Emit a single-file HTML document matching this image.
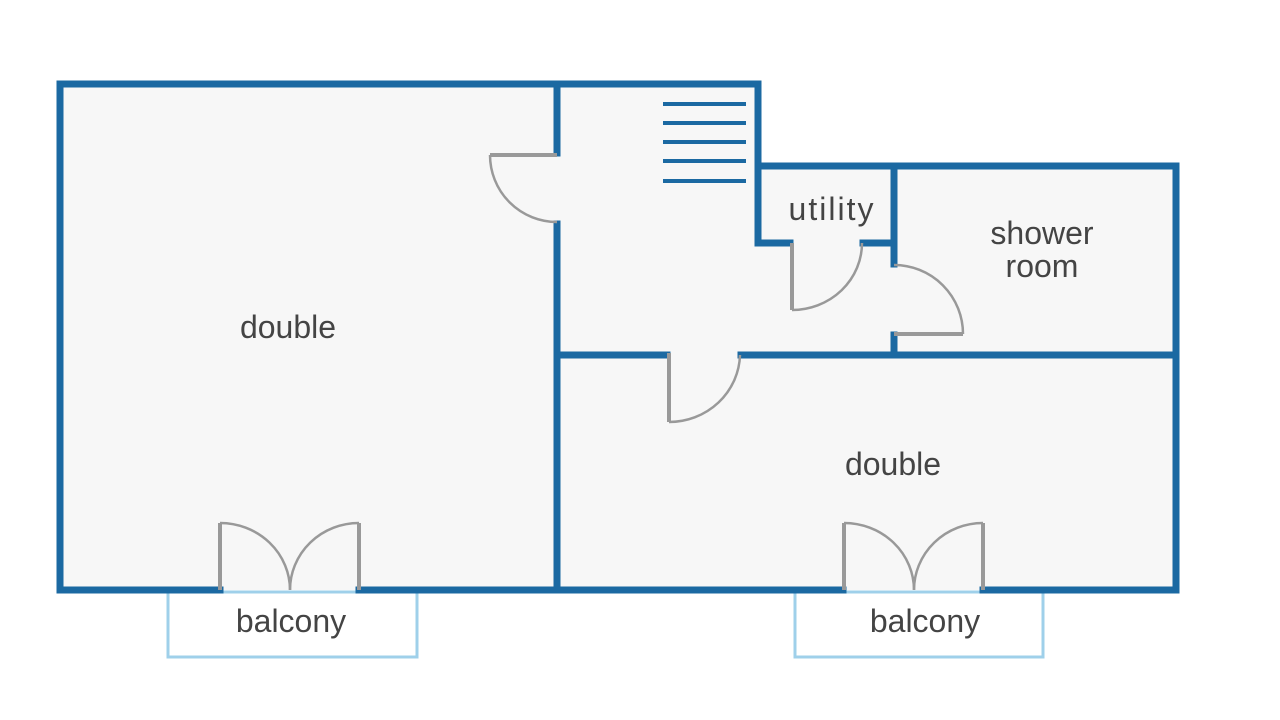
<!DOCTYPE html>
<html><head><meta charset="utf-8"><style>
html,body{margin:0;padding:0;background:#fff;}
svg{display:block;}
text{font-family:"Liberation Sans",sans-serif;fill:#444;font-size:32px;}
</style></head><body>
<svg width="1280" height="720" viewBox="0 0 1280 720" xmlns="http://www.w3.org/2000/svg">
<rect width="1280" height="720" fill="#fff"/>
<!-- floor fill -->
<polygon points="60,84 758,84 758,166 1176,166 1176,590 60,590" fill="#f7f7f7"/>
<!-- balconies -->
<rect x="168" y="592" width="249" height="65" fill="#fff" stroke="#9fd0ea" stroke-width="3"/>
<rect x="795" y="592" width="248" height="65" fill="#fff" stroke="#9fd0ea" stroke-width="3"/>
<g stroke="#1b69a2" stroke-width="7" fill="none" stroke-linecap="square">
  <!-- outer -->
  <polyline points="220,590 60,590 60,84 758,84 758,166 1176,166 1176,590 983,590"/>
  <line x1="359" y1="590" x2="843" y2="590"/>
  <!-- vertical wall between left double and hall -->
  <line x1="557" y1="84" x2="557" y2="153"/>
  <line x1="557" y1="224" x2="557" y2="590"/>
  <!-- horizontal wall y=355 -->
  <line x1="557" y1="355" x2="667" y2="355"/>
  <line x1="741" y1="355" x2="1176" y2="355"/>
  <!-- utility -->
  <polyline points="790,243 758,243 758,166"/>
  <line x1="863" y1="243" x2="894" y2="243"/>
  <line x1="894" y1="166" x2="894" y2="264"/>
  <line x1="894" y1="335" x2="894" y2="355"/>
</g>
<!-- stairs -->
<g stroke="#1b69a2" stroke-width="4">
  <line x1="663" y1="104" x2="746" y2="104"/>
  <line x1="663" y1="123" x2="746" y2="123"/>
  <line x1="663" y1="142" x2="746" y2="142"/>
  <line x1="663" y1="161" x2="746" y2="161"/>
  <line x1="663" y1="181" x2="746" y2="181"/>
</g>
<!-- doors -->
<g stroke="#999" fill="none">
  <g stroke-width="4">
    <line x1="557" y1="155" x2="490" y2="155"/>
    <line x1="669" y1="353" x2="669" y2="422"/>
    <line x1="792" y1="243" x2="792" y2="310"/>
    <line x1="894" y1="334" x2="963" y2="334"/>
    <line x1="220" y1="590" x2="220" y2="523"/>
    <line x1="359" y1="590" x2="359" y2="523"/>
    <line x1="844" y1="590" x2="844" y2="523"/>
    <line x1="983" y1="590" x2="983" y2="523"/>
  </g>
  <g stroke-width="2.5">
    <path d="M490,155 A67,67 0 0 0 557,222"/>
    <path d="M669,422 A71,69 0 0 0 740,355"/>
    <path d="M792,310 A70,67 0 0 0 862,243"/>
    <path d="M894,265 A69,69 0 0 1 963,334"/>
    <path d="M220,523 A70,67 0 0 1 290,590"/>
    <path d="M359,523 A69,67 0 0 0 290,590"/>
    <path d="M844,523 A70,67 0 0 1 914,590"/>
    <path d="M983,523 A69,67 0 0 0 914,590"/>
  </g>
</g>
<!-- labels -->
<text x="288" y="338" text-anchor="middle">double</text>
<text x="893" y="475" text-anchor="middle">double</text>
<text x="832" y="220" text-anchor="middle" style="letter-spacing:2px">utility</text>
<text x="1042" y="244" text-anchor="middle">shower</text>
<text x="1042" y="277" text-anchor="middle">room</text>
<text x="291" y="632" text-anchor="middle">balcony</text>
<text x="925" y="632" text-anchor="middle">balcony</text>
</svg>
</body></html>
